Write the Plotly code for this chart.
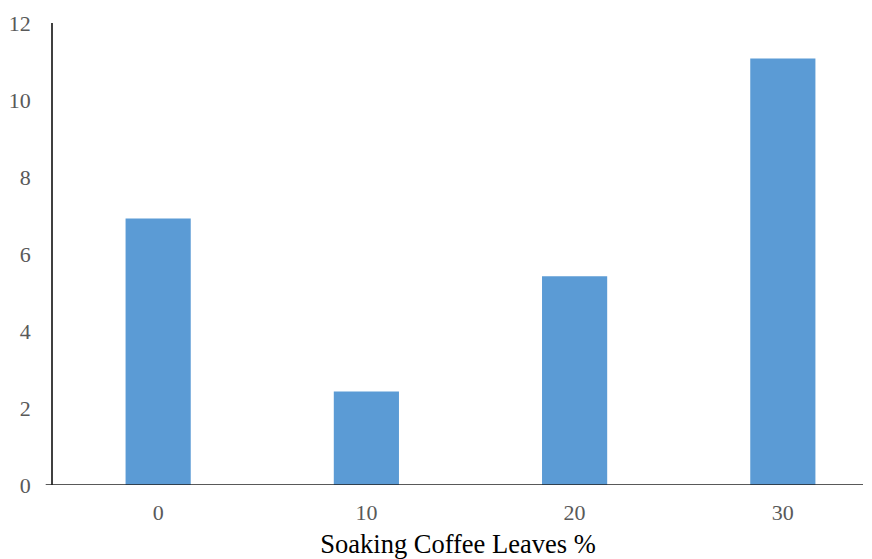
import plotly.graph_objects as go

categories = ["0", "10", "20", "30"]
values = [6.92, 2.43, 5.42, 11.08]
y_ticks = [0, 2, 4, 6, 8, 10, 12]

fig = go.Figure()
fig.add_trace(go.Bar(
    x=list(range(len(categories))), y=values,
    marker=dict(color="#5B9BD5", line=dict(width=0)),
    width=0.313,
))

fig.update_layout(
    width=872, height=559,
    margin=dict(l=53, r=9, t=23, b=74),
    paper_bgcolor="white", plot_bgcolor="white",
    showlegend=False,
    font=dict(family="Liberation Serif", size=22, color="#595959"),
)
fig.update_xaxes(
    tickmode="array", tickvals=list(range(len(categories))), ticktext=categories,
    range=[-0.505, 3.385], automargin=False,
    showline=False, showgrid=False, zeroline=False, ticks="",
    ticklabelstandoff=12,
    title=dict(text="Soaking Coffee Leaves %", font=dict(family="Liberation Serif", size=26.5, color="black"), standoff=11),
)
fig.update_yaxes(
    range=[0, 12], tickvals=y_ticks, automargin=False,
    showline=True, linecolor="#404040", linewidth=1.5,
    showgrid=False, zeroline=False, ticks="",
    ticklabelstandoff=16,
)
fig.add_shape(type="line", xref="paper", yref="y", x0=-0.009, x1=1.0, y0=0, y1=0,
              line=dict(color="#222222", width=1.5))

fig.write_html("out.html", config={"displayModeBar": False},
               post_script="document.body.style.margin='0';document.body.style.overflow='hidden';")
